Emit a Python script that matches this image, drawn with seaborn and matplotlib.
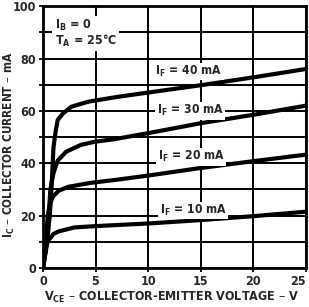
import numpy as np
import pandas as pd
import seaborn as sns
import matplotlib.pyplot as plt
from matplotlib.ticker import MultipleLocator

# Ic vs Vce curves
vce_40 = [0.0, 0.3, 0.5, 0.67, 0.85, 1.0, 1.2, 1.4, 1.9, 2.7, 4.3, 7, 10, 15, 20, 25]
ic_40 = [0, 7, 14, 21, 33.5, 46, 52, 56.5, 59, 61.6, 63.5, 65.3, 67, 69.8, 72.8, 76]
vce_30 = [0.0, 0.3, 0.57, 0.7, 1.0, 1.4, 2.2, 3.6, 4.9, 6.8, 10, 15, 20, 25]
ic_30 = [0, 8, 21, 30, 36.2, 41, 44.4, 47, 48.2, 49.2, 51.5, 55.3, 58.5, 62]
vce_20 = [0.0, 0.25, 0.45, 0.7, 1.0, 1.5, 2.4, 4.5, 6.8, 10, 15, 20, 25]
ic_20 = [0, 8, 20, 25, 27.5, 29.5, 31, 32.5, 33.6, 35.3, 38.2, 40.8, 43.3]
vce_10 = [0.0, 0.3, 0.5, 1.0, 1.5, 3.0, 5, 10, 15, 20, 25]
ic_10 = [0, 8, 10.5, 13, 14, 15.5, 16, 17, 18.3, 19.8, 21.5]

x_ticks = [0, 5, 10, 15, 20, 25]
y_ticks = [0, 20, 40, 60, 80, 100]

curve_labels = ['IF = 40 mA', 'IF = 30 mA', 'IF = 20 mA', 'IF = 10 mA']
label_text = [r'I$_F$ = 40 mA', r'I$_F$ = 30 mA', r'I$_F$ = 20 mA', r'I$_F$ = 10 mA']
label_pos = [(10.7, 75), (10.8, 60), (10.9, 42.5), (11.1, 22)]

frames = []
for name, v, i in zip(curve_labels, [vce_40, vce_30, vce_20, vce_10],
                      [ic_40, ic_30, ic_20, ic_10]):
    frames.append(pd.DataFrame({'vce': v, 'ic': i, 'curve': name}))
df = pd.concat(frames, ignore_index=True)

sns.set_style('white')
plt.rcParams['font.family'] = ['DejaVu Sans']
plt.rcParams['font.stretch'] = 'condensed'
plt.rcParams['font.weight'] = 'bold'
plt.rcParams['mathtext.default'] = 'regular'

fig = plt.figure(figsize=(3.09, 3.07), dpi=100)
ax = fig.add_axes([0.139, 0.127, 0.851, 0.853])

sns.lineplot(data=df, x='vce', y='ic', units='curve', estimator=None,
             color='black', linewidth=3.0, sort=False, ax=ax, zorder=3)

ax.set_xlim(0, 25)
ax.set_ylim(0, 100)
ax.set_xticks(x_ticks)
ax.set_yticks(y_ticks)
ax.yaxis.set_minor_locator(MultipleLocator(10))
ax.grid(True, which='both', color='black', linewidth=1.4)
ax.set_axisbelow(True)

for t, (x, y) in zip(label_text, label_pos):
    ax.text(x, y, t, fontsize=8.7, fontweight='bold', va='center', ha='left',
            zorder=4, bbox=dict(facecolor='white', edgecolor='none', pad=1.0))

ax.text(1.1, 89.5, 'I$_B$ = 0\nT$_A$ = 25°C', fontsize=9, fontweight='bold',
        va='center', ha='left', linespacing=1.0, zorder=4,
        bbox=dict(facecolor='white', edgecolor='none', pad=1.5))

for s in ax.spines.values():
    s.set_color('black')
    s.set_linewidth(2.0)
ax.tick_params(axis='both', which='both', length=3, width=1.3, color='black',
               labelsize=9, pad=2, direction='out', left=True, bottom=True)
for lab in ax.get_xticklabels() + ax.get_yticklabels():
    lab.set_fontweight('bold')
ax.get_xticklabels()[-1].set_horizontalalignment('right')

ax.set_xlabel('V$_{CE}$ – COLLECTOR-EMITTER VOLTAGE – V', fontsize=9,
              fontweight='bold')
ax.set_ylabel('I$_C$ – COLLECTOR CURRENT – mA', fontsize=8.5,
              fontweight='bold')
ax.xaxis.set_label_coords(0.49, -0.085)
ax.yaxis.set_label_coords(-0.1, 0.47)

fig.savefig('out.png', dpi=100)
